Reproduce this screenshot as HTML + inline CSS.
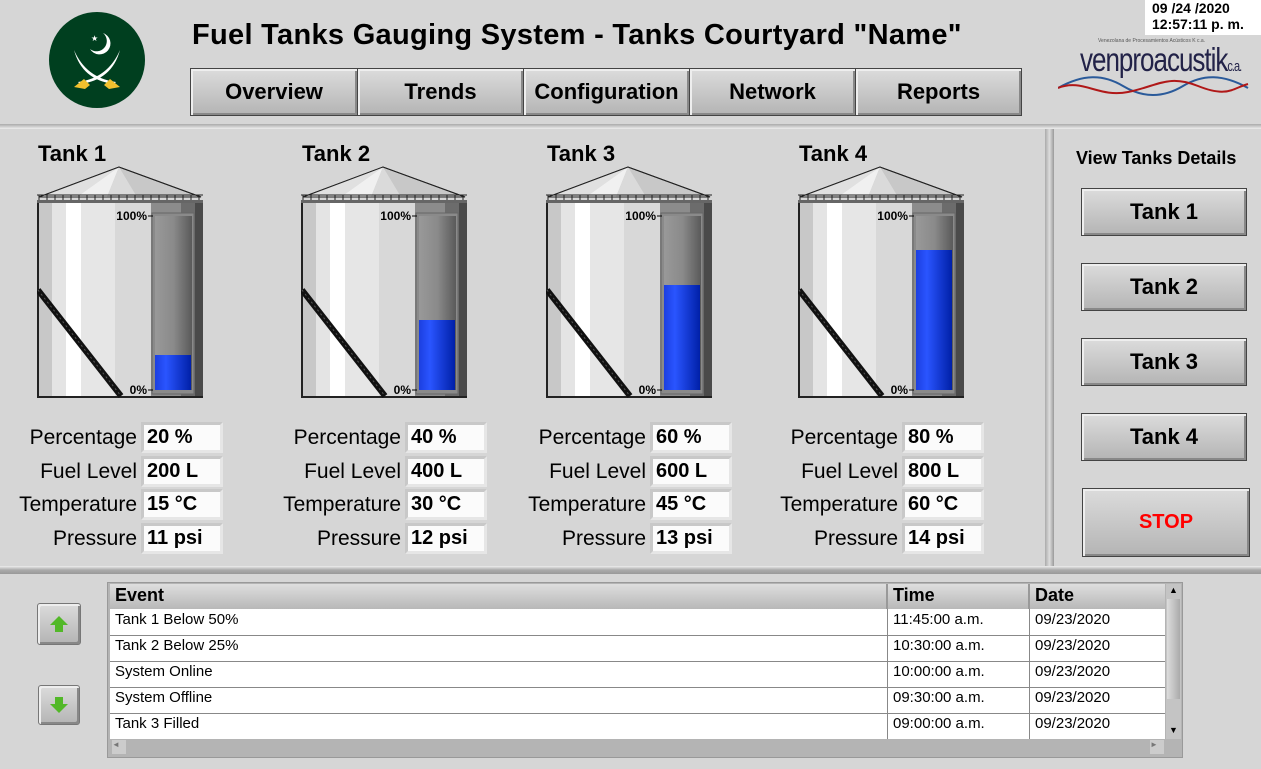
<!DOCTYPE html>
<html><head><meta charset="utf-8">
<style>
body{margin:0;width:1261px;height:769px;background:#d6d6d6;font-family:"Liberation Sans",sans-serif;position:relative;overflow:hidden}
.a{position:absolute}
.btn{position:absolute;box-sizing:border-box;border:1px solid #444;background:linear-gradient(#dcdcdc,#b4b4b4);box-shadow:inset 2px 2px 0 #eee,inset -2px -2px 0 #888;font-weight:bold;color:#000;display:flex;align-items:center;justify-content:center}
.lbl{position:absolute;font-size:21px;text-align:right;width:170px;white-space:nowrap}
.val{position:absolute;box-sizing:border-box;width:82px;height:31px;background:#fbfbfb;border:3px solid #c8c8c8;border-right-color:#e6e6e6;border-bottom-color:#e6e6e6;font-size:20px;font-weight:bold;padding-left:3px;line-height:25px}
.cell{position:absolute;font-size:15px;line-height:18px}
</style></head><body>
<div class="a" style="left:0;top:124px;width:1261px;height:5px;background:linear-gradient(#aaa,#eee)"></div>
<div class="a" style="left:0;top:566px;width:1261px;height:8px;background:linear-gradient(#eee,#aaa,#999)"></div>
<div class="a" style="left:1045px;top:129px;width:9px;height:437px;background:linear-gradient(90deg,#aaa,#ddd,#999)"></div>

<svg class="a" style="left:48px;top:11px" width="98" height="98">
<circle cx="49" cy="49" r="48" fill="#003f1f"/>
<path d="M55 22 A11 11 0 1 1 42 38 A9 9 0 1 0 55 22Z" fill="#fff"/>
<text x="43" y="30" fill="#fff" font-size="8">★</text>
<path d="M26 39 q8 30 40 34 l2 -2 q-30 -4 -42 -32z" fill="#fff"/>
<path d="M72 39 q-8 30 -40 34 l-2 -2 q30 -4 42 -32z" fill="#fff"/>
<path d="M26 76 l10 -8 l6 6 l-5 4 z M72 76 l-10 -8 l-6 6 l5 4z" fill="#f2c12e"/>
</svg>
<div class="a" style="left:192px;top:19px;font-size:29px;font-weight:bold;letter-spacing:0.3px;white-space:nowrap">Fuel Tanks Gauging System - Tanks Courtyard "Name"</div>
<div class="btn" style="left:190px;top:68px;width:168px;height:48px;font-size:22px">Overview</div>
<div class="btn" style="left:357px;top:68px;width:167px;height:48px;font-size:22px">Trends</div>
<div class="btn" style="left:523px;top:68px;width:167px;height:48px;font-size:22px">Configuration</div>
<div class="btn" style="left:689px;top:68px;width:167px;height:48px;font-size:22px">Network</div>
<div class="btn" style="left:855px;top:68px;width:167px;height:48px;font-size:22px">Reports</div>

<div class="a" style="left:1145px;top:0;width:116px;height:35px;background:#fff;font-size:14px;font-weight:bold;line-height:16px;padding-left:7px;box-sizing:border-box">09 /24 /2020<br>12:57:11 p. m.</div>
<div class="a" style="left:1058px;top:38px;width:195px;height:60px">
<div class="a" style="left:40px;top:0;font-size:5px;color:#555;white-space:nowrap">Venezolana de Procesamientos Acústicos K c.a.</div>
<div class="a" style="left:22px;top:2px;font-size:26px;color:#222248;letter-spacing:-1px;white-space:nowrap;transform:scaleY(1.3);transform-origin:top">venproacustik<span style="font-size:11px">c.a.</span></div>
<svg class="a" style="left:0;top:36px" width="195" height="24"><path d="M0 14 C25 0 45 0 65 12 S105 24 125 12 S165 0 190 14" stroke="#2a5a9a" stroke-width="2" fill="none"/><path d="M0 14 C25 4 40 24 70 18 S110 0 140 12 S175 14 190 10" stroke="#b01818" stroke-width="2" fill="none"/></svg>
</div>

<div id="tanks"></div>

<div class="a" style="left:1076px;top:148px;font-size:18px;font-weight:bold;white-space:nowrap">View Tanks Details</div>
<div class="btn" style="left:1081px;top:188px;width:166px;height:48px;font-size:22px">Tank 1</div>
<div class="btn" style="left:1081px;top:263px;width:166px;height:48px;font-size:22px">Tank 2</div>
<div class="btn" style="left:1081px;top:338px;width:166px;height:48px;font-size:22px">Tank 3</div>
<div class="btn" style="left:1081px;top:413px;width:166px;height:48px;font-size:22px">Tank 4</div>
<div class="btn" style="left:1082px;top:488px;width:168px;height:69px;font-size:20px;color:#f00">STOP</div>

<div class="btn" style="left:37px;top:603px;width:44px;height:42px;border-color:#777;border-radius:3px"><svg width="20" height="20"><path d="M10 2 L19 11 H14 V18 H6 V11 H1Z" fill="#52b828"/></svg></div>
<div class="btn" style="left:38px;top:685px;width:42px;height:40px;border-color:#777;border-radius:3px"><svg width="20" height="20"><path d="M10 18 L19 9 H14 V2 H6 V9 H1Z" fill="#52b828"/></svg></div>

<div class="a" style="left:107px;top:582px;width:1076px;height:176px;background:#b4b4b4;border:1px solid #999;box-sizing:border-box">
<div id="tbl"></div>
</div>

<script>
const tankNames=["Tank 1","Tank 2","Tank 3","Tank 4"];
const percentages=[20,40,60,80];
const fuelLevels=[200,400,600,800];
const temperatures=[15,30,45,60];
const pressures=[11,12,13,14];
const tankLefts=[37,301,546,798];
const events=["Tank 1 Below 50%","Tank 2 Below 25%","System Online","System Offline","Tank 3 Filled"];
const times=["11:45:00 a.m.","10:30:00 a.m.","10:00:00 a.m.","09:30:00 a.m.","09:00:00 a.m."];
const dates=["09/23/2020","09/23/2020","09/23/2020","09/23/2020","09/23/2020"];

const yScale=p=>390-p/100*175;
const T=document.getElementById('tanks');
tankNames.forEach((n,i)=>{
 const L=tankLefts[i];
 const g=document.createElement('div');
 g.className='a';g.style.left=0;g.style.top=0;
 
 
 let rail='';for(let x=2;x<165;x+=8)rail+=`<line x1="${x}" y1="29" x2="${x}" y2="34" stroke="#222"/>`;
 g.innerHTML=`<div class="a" style="left:${L+1}px;top:141px;font-size:22px;font-weight:bold;white-space:nowrap">${n}</div>
 <svg class="a" style="left:${L}px;top:166px" width="168" height="235">
  <polygon points="2,31 82,1 164,31" fill="#c8c8c8" stroke="#222"/>
  <polygon points="82,1 2,31 40,31" fill="#e0e0e0"/>
  <polygon points="82,1 40,31 70,31" fill="#f0f0f0"/>
  <polygon points="82,1 70,31 100,31" fill="#dadada"/>
  <polygon points="82,1 2,31 164,31" fill="none" stroke="#222"/>
  <line x1="0" y1="29" x2="166" y2="29" stroke="#222"/>${rail}
  <rect x="0" y="34" width="166" height="3" fill="#666"/>
  <rect x="1" y="37" width="14" height="194" fill="#c8c8c8"/>
  <rect x="15" y="37" width="14" height="194" fill="#e4e4e4"/>
  <rect x="29" y="37" width="15" height="194" fill="#fff"/>
  <rect x="44" y="37" width="34" height="194" fill="#e6e6e6"/>
  <rect x="78" y="37" width="36" height="194" fill="#d8d8d8"/>
  <rect x="114" y="37" width="30" height="194" fill="#8c8c8c"/>
  <rect x="144" y="37" width="14" height="194" fill="#6c6c6c"/>
  <rect x="158" y="37" width="8" height="194" fill="#4a4a4a"/>
  <rect x="115" y="47" width="42" height="181" fill="#8a8a8a" stroke="#666"/>
  <rect x="118" y="50" width="37" height="174" fill="url(#tube${i})"/>
  <defs><linearGradient id="tube${i}"><stop offset="0" stop-color="#999"/><stop offset=".5" stop-color="#8a8a8a"/><stop offset="1" stop-color="#5a5a5a"/></linearGradient></defs>
  <line x1="1" y1="37" x2="1" y2="231" stroke="#222" stroke-width="2"/>
  <line x1="0" y1="231" x2="166" y2="231" stroke="#222" stroke-width="2"/>
  <line x1="1" y1="124" x2="84" y2="230" stroke="#111" stroke-width="6"/>
  <line x1="1" y1="124" x2="84" y2="230" stroke="#555" stroke-width="1" stroke-dasharray="2 3"/>
  <text x="110" y="54" text-anchor="end" font-size="12" font-weight="bold" font-family="Liberation Sans">100%</text>
  <text x="110" y="228" text-anchor="end" font-size="12" font-weight="bold" font-family="Liberation Sans">0%</text>
  <line x1="111" y1="50" x2="116" y2="50" stroke="#000"/><line x1="111" y1="224" x2="116" y2="224" stroke="#000"/>
 </svg>`;
 T.appendChild(g);
 const fy=yScale(percentages[i]);
 const f=document.createElement('div');
 f.className='a';
 
 
 f.style.cssText=`left:${L+118}px;top:${fy}px;width:36px;height:${390-fy}px;background:linear-gradient(90deg,#1c3fe0,#2a55ff 30%,#0020a8)`;
 T.appendChild(f);
 const labels=["Percentage","Fuel Level","Temperature","Pressure"];
 const vals=[percentages[i]+" %",fuelLevels[i]+" L",temperatures[i]+" °C",pressures[i]+" psi"];
 const keys=["percentage","fuel-level","temperature","pressure"];
 labels.forEach((lb,r)=>{
  const y=422+r*33.5;
  const l=document.createElement('div');l.className='lbl';
  
  
  l.style.left=(L+100-170)+'px';l.style.top=(y+4)+'px';l.textContent=lb;T.appendChild(l);
  const v=document.createElement('div');v.className='val';
  
  
  v.style.left=(L+104)+'px';v.style.top=y+'px';v.textContent=vals[r];T.appendChild(v);
 });
});

const tb=document.getElementById('tbl');
tb.innerHTML=`<div class="a" style="left:2px;top:1px;width:1055px;height:25px;background:linear-gradient(#dedede,#b8b8b8)"></div>
<div class="a" style="left:7px;top:2px;font-size:18px;font-weight:bold">Event</div>
<div class="a" style="left:778px;top:1px;width:2px;height:25px;background:#999"></div>
<div class="a" style="left:785px;top:2px;font-size:18px;font-weight:bold">Time</div>
<div class="a" style="left:920px;top:1px;width:2px;height:25px;background:#999"></div>
<div class="a" style="left:927px;top:2px;font-size:18px;font-weight:bold">Date</div>
<div class="a" style="left:2px;top:26px;width:1055px;height:130px;background:#fff"></div>
<div class="a" style="left:779px;top:26px;width:1px;height:130px;background:#888"></div>
<div class="a" style="left:921px;top:26px;width:1px;height:130px;background:#888"></div>
<div class="a" style="left:1058px;top:1px;width:15px;height:155px;background:#c4c4c4"></div>
<div class="a" style="left:1059px;top:16px;width:13px;height:100px;background:linear-gradient(90deg,#ddd,#aaa)"></div>
<div class="a" style="left:1061px;top:2px;font-size:9px">▲</div><div class="a" style="left:1061px;top:142px;font-size:9px">▼</div>
<div class="a" style="left:4px;top:157px;width:14px;height:14px;background:#ccc;font-size:8px;color:#777">◄</div>
<div class="a" style="left:1042px;top:157px;width:14px;height:14px;background:#ccc;font-size:8px;color:#777">►</div>`;
events.forEach((e,r)=>{
 const y=27+r*26;
 const row=document.createElement('div');
 row.className='a';row.style.cssText=`left:2px;top:${y}px;width:1055px;height:26px`;
 
 
 row.innerHTML=`<div class="cell" style="left:5px;top:1px">${e}</div><div class="cell" style="left:783px;top:1px">${times[r]}</div><div class="cell" style="left:925px;top:1px">${dates[r]}</div>`+(r<4?`<div class="a" style="left:0;top:25px;width:1055px;height:1px;background:#888"></div>`:'');
 tb.appendChild(row);
});
</script>
</body></html>
